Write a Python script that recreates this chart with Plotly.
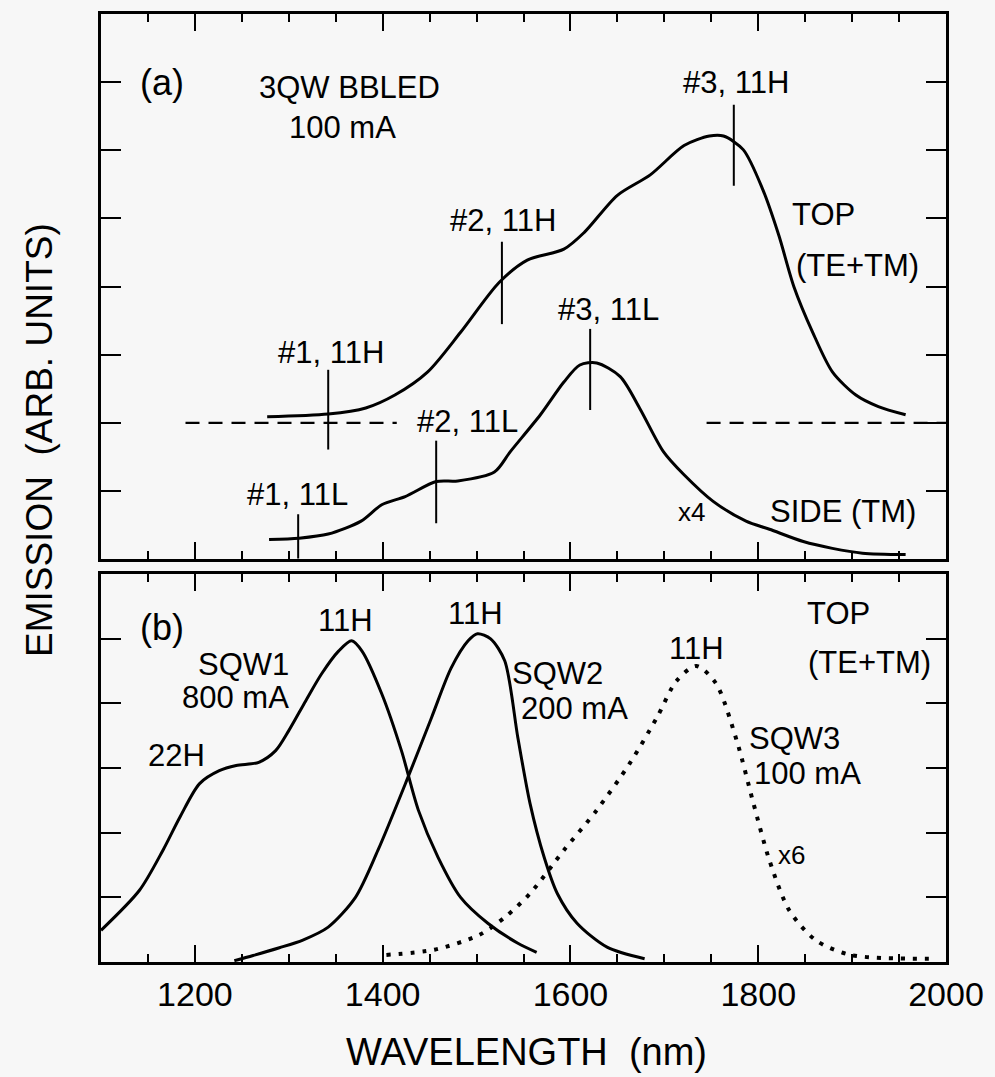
import plotly.graph_objects as go

# ---------------- Panel (a) data ----------------
top_nm = [1277, 1342, 1382, 1413, 1448, 1483, 1524, 1554, 1593, 1615, 1650, 1685, 1721, 1748, 1763, 1784, 1805, 1822, 1838, 1858, 1879, 1904, 1928, 1957]
top_val = [2.09, 2.13, 2.22, 2.41, 2.75, 3.33, 4.06, 4.39, 4.55, 4.80, 5.34, 5.64, 6.07, 6.21, 6.21, 6.01, 5.42, 4.75, 4.00, 3.33, 2.75, 2.41, 2.24, 2.12]

side_nm = [1279, 1311, 1342, 1377, 1399, 1424, 1457, 1480, 1519, 1536, 1568, 1593, 1610, 1628, 1653, 1674, 1699, 1721, 1752, 1787, 1812, 1848, 1879, 1911, 1957]
side_val = [0.29, 0.31, 0.37, 0.56, 0.80, 0.92, 1.14, 1.15, 1.28, 1.58, 2.12, 2.60, 2.85, 2.88, 2.68, 2.21, 1.58, 1.24, 0.85, 0.56, 0.44, 0.26, 0.16, 0.09, 0.07]

base_left_nm = [1190, 1415]
base_right_nm = [1745, 2000]
base_level = 2.0

mark_a_nm = [1342, 1310, 1457, 1527, 1621, 1774]
mark_a_lo = [1.61, 0.01, 0.53, 3.45, 2.19, 5.48]
mark_a_hi = [2.78, 0.66, 1.74, 4.66, 3.38, 6.67]

# ---------------- Panel (b) data ----------------
sqw1_nm = [1100, 1141, 1166, 1184, 1205, 1226, 1244, 1268, 1286, 1300, 1318, 1335, 1353, 1367, 1378, 1399, 1420, 1438, 1459, 1483, 1512, 1544, 1564]
sqw1_val = [0.49, 1.11, 1.73, 2.24, 2.76, 2.96, 3.04, 3.09, 3.27, 3.58, 4.04, 4.46, 4.81, 4.97, 4.81, 4.15, 3.27, 2.35, 1.62, 1.00, 0.60, 0.29, 0.15]

sqw2_nm = [1242, 1262, 1290, 1315, 1342, 1371, 1395, 1427, 1452, 1473, 1491, 1501, 1515, 1530, 1544, 1557, 1572, 1586, 1607, 1639, 1679]
sqw2_val = [0.02, 0.10, 0.22, 0.34, 0.54, 1.00, 1.73, 2.86, 3.78, 4.55, 4.97, 5.08, 5.00, 4.66, 3.47, 2.45, 1.62, 1.06, 0.60, 0.23, 0.05]

sqw3_nm = [1404, 1455, 1503, 1530, 1557, 1593, 1628, 1663, 1692, 1713, 1734, 1755, 1777, 1795, 1812, 1833, 1861, 1898, 1990]
sqw3_val = [0.11, 0.19, 0.42, 0.69, 1.06, 1.73, 2.35, 3.07, 3.78, 4.35, 4.58, 4.31, 3.43, 2.45, 1.57, 0.80, 0.34, 0.11, 0.05]

# ---------------- Text labels ----------------
labels_a = ["(a)", "3QW BBLED", "100 mA", "#3, 11H", "#2, 11H", "TOP", "(TE+TM)", "#1, 11H", "#2, 11L", "#3, 11L", "#1, 11L", "x4", "SIDE (TM)"]
labels_a_nm = [1165, 1365, 1357, 1776, 1528, 1870, 1906, 1345, 1490, 1641, 1309, 1729, 1890]
labels_a_val = [6.99, 6.92, 6.33, 6.99, 4.97, 5.06, 4.31, 3.04, 2.02, 3.67, 0.95, 0.70, 0.70]

labels_b = ["(b)", "11H", "SQW1", "800 mA", "22H", "11H", "SQW2", "200 mA", "11H", "TOP", "(TE+TM)", "SQW3", "100 mA", "x6"]
labels_b_nm = [1165, 1360, 1252, 1243, 1180, 1499, 1586, 1604, 1734, 1886, 1918, 1839, 1852, 1835]
labels_b_val = [5.17, 5.28, 4.61, 4.09, 3.19, 5.39, 4.47, 3.92, 4.85, 5.40, 4.63, 3.46, 2.92, 1.65]

x_tick_vals = [1200, 1400, 1600, 1800, 2000]
x_tick_text = ["1200", "1400", "1600", "1800", "2000"]

FONT = "Arial, Liberation Sans, sans-serif"
BG = "#f7f7f7"

fig = go.Figure()

line = dict(color="black", width=3, shape="spline", smoothing=0.8)
fig.add_trace(go.Scatter(x=top_nm, y=top_val, mode="lines", line=line, xaxis="x", yaxis="y"))
fig.add_trace(go.Scatter(x=side_nm, y=side_val, mode="lines", line=line, xaxis="x", yaxis="y"))
for seg in (base_left_nm, base_right_nm):
    fig.add_trace(go.Scatter(x=seg, y=[base_level, base_level], mode="lines",
                             line=dict(color="black", width=2.2, dash="14px,9px"), xaxis="x", yaxis="y"))
mx, my = [], []
for n, lo, hi in zip(mark_a_nm, mark_a_lo, mark_a_hi):
    mx += [n, n, None]
    my += [lo, hi, None]
fig.add_trace(go.Scatter(x=mx, y=my, mode="lines", line=dict(color="black", width=2), xaxis="x", yaxis="y"))

fig.add_trace(go.Scatter(x=sqw1_nm, y=sqw1_val, mode="lines", line=line, xaxis="x2", yaxis="y2"))
fig.add_trace(go.Scatter(x=sqw2_nm, y=sqw2_val, mode="lines", line=line, xaxis="x2", yaxis="y2"))
fig.add_trace(go.Scatter(x=sqw3_nm, y=sqw3_val, mode="lines",
                         line=dict(color="black", width=4, dash="4px,8px", shape="spline", smoothing=0.8),
                         xaxis="x2", yaxis="y2"))

ann = []
for t, xv, yv in zip(labels_a, labels_a_nm, labels_a_val):
    size = 36 if t == "(a)" else (26 if t == "x4" else 31)
    ann.append(dict(text=t, x=xv, y=yv, xref="x", yref="y", showarrow=False,
                    xanchor="center", yanchor="middle",
                    font=dict(size=size, family=FONT, color="black")))
for t, xv, yv in zip(labels_b, labels_b_nm, labels_b_val):
    size = 36 if t == "(b)" else (26 if t == "x6" else 31)
    ann.append(dict(text=t, x=xv, y=yv, xref="x2", yref="y2", showarrow=False,
                    xanchor="center", yanchor="middle",
                    font=dict(size=size, family=FONT, color="black")))

# Axis titles positioned in pixels (converted to paper fractions)
W, H = 995, 1077
ML, MR, MT, MB = 101, 44, 11, 115
pw, ph = W - ML - MR, H - MT - MB


def px_to_paper(px, py):
    return (px - ML) / pw, (H - MB - py) / ph


yt_x, yt_y = px_to_paper(39, 438)
xt_x, xt_y = px_to_paper(529, 1052)
ann.append(dict(text="EMISSION  (ARB. UNITS)", x=yt_x, y=yt_y, xref="paper", yref="paper",
                xanchor="center", yanchor="middle",
                showarrow=False, textangle=-90, font=dict(size=37, family=FONT, color="black")))
ann.append(dict(text="WAVELENGTH  (nm)", x=xt_x, y=xt_y, xref="paper", yref="paper",
                xanchor="center", yanchor="middle",
                showarrow=False, font=dict(size=38, family=FONT, color="black")))

xcommon = dict(range=[1100, 2000], showline=True, linecolor="black", linewidth=3, mirror="ticks",
               ticks="inside", ticklen=17, tickwidth=2, tickcolor="black",
               tickvals=x_tick_vals, ticktext=x_tick_text,
               minor=dict(dtick=50, tick0=1100, ticks="inside", ticklen=8, tickwidth=2, tickcolor="black"),
               showgrid=False, zeroline=False,
               tickfont=dict(size=34, family=FONT, color="black"))
ycommon = dict(showline=True, linecolor="black", linewidth=3, mirror="ticks",
               ticks="inside", ticklen=20, tickwidth=2, tickcolor="black",
               showticklabels=False, showgrid=False, zeroline=False)

fig.update_layout(
    width=W, height=H,
    margin=dict(l=ML, r=MR, t=MT, b=MB),
    paper_bgcolor=BG, plot_bgcolor=BG,
    showlegend=False,
    xaxis=dict(xcommon, anchor="y", showticklabels=False),
    yaxis=dict(ycommon, domain=[(962 - 558) / ph, 1.0], range=[0, 8], tickvals=[1, 2, 3, 4, 5, 6, 7], anchor="x"),
    xaxis2=dict(xcommon, anchor="y2", showticklabels=True),
    yaxis2=dict(ycommon, domain=[0, (962 - 573) / ph], range=[0, 6], tickvals=[1, 2, 3, 4, 5], anchor="x2"),
    annotations=ann,
)

fig.write_html("out.html")
